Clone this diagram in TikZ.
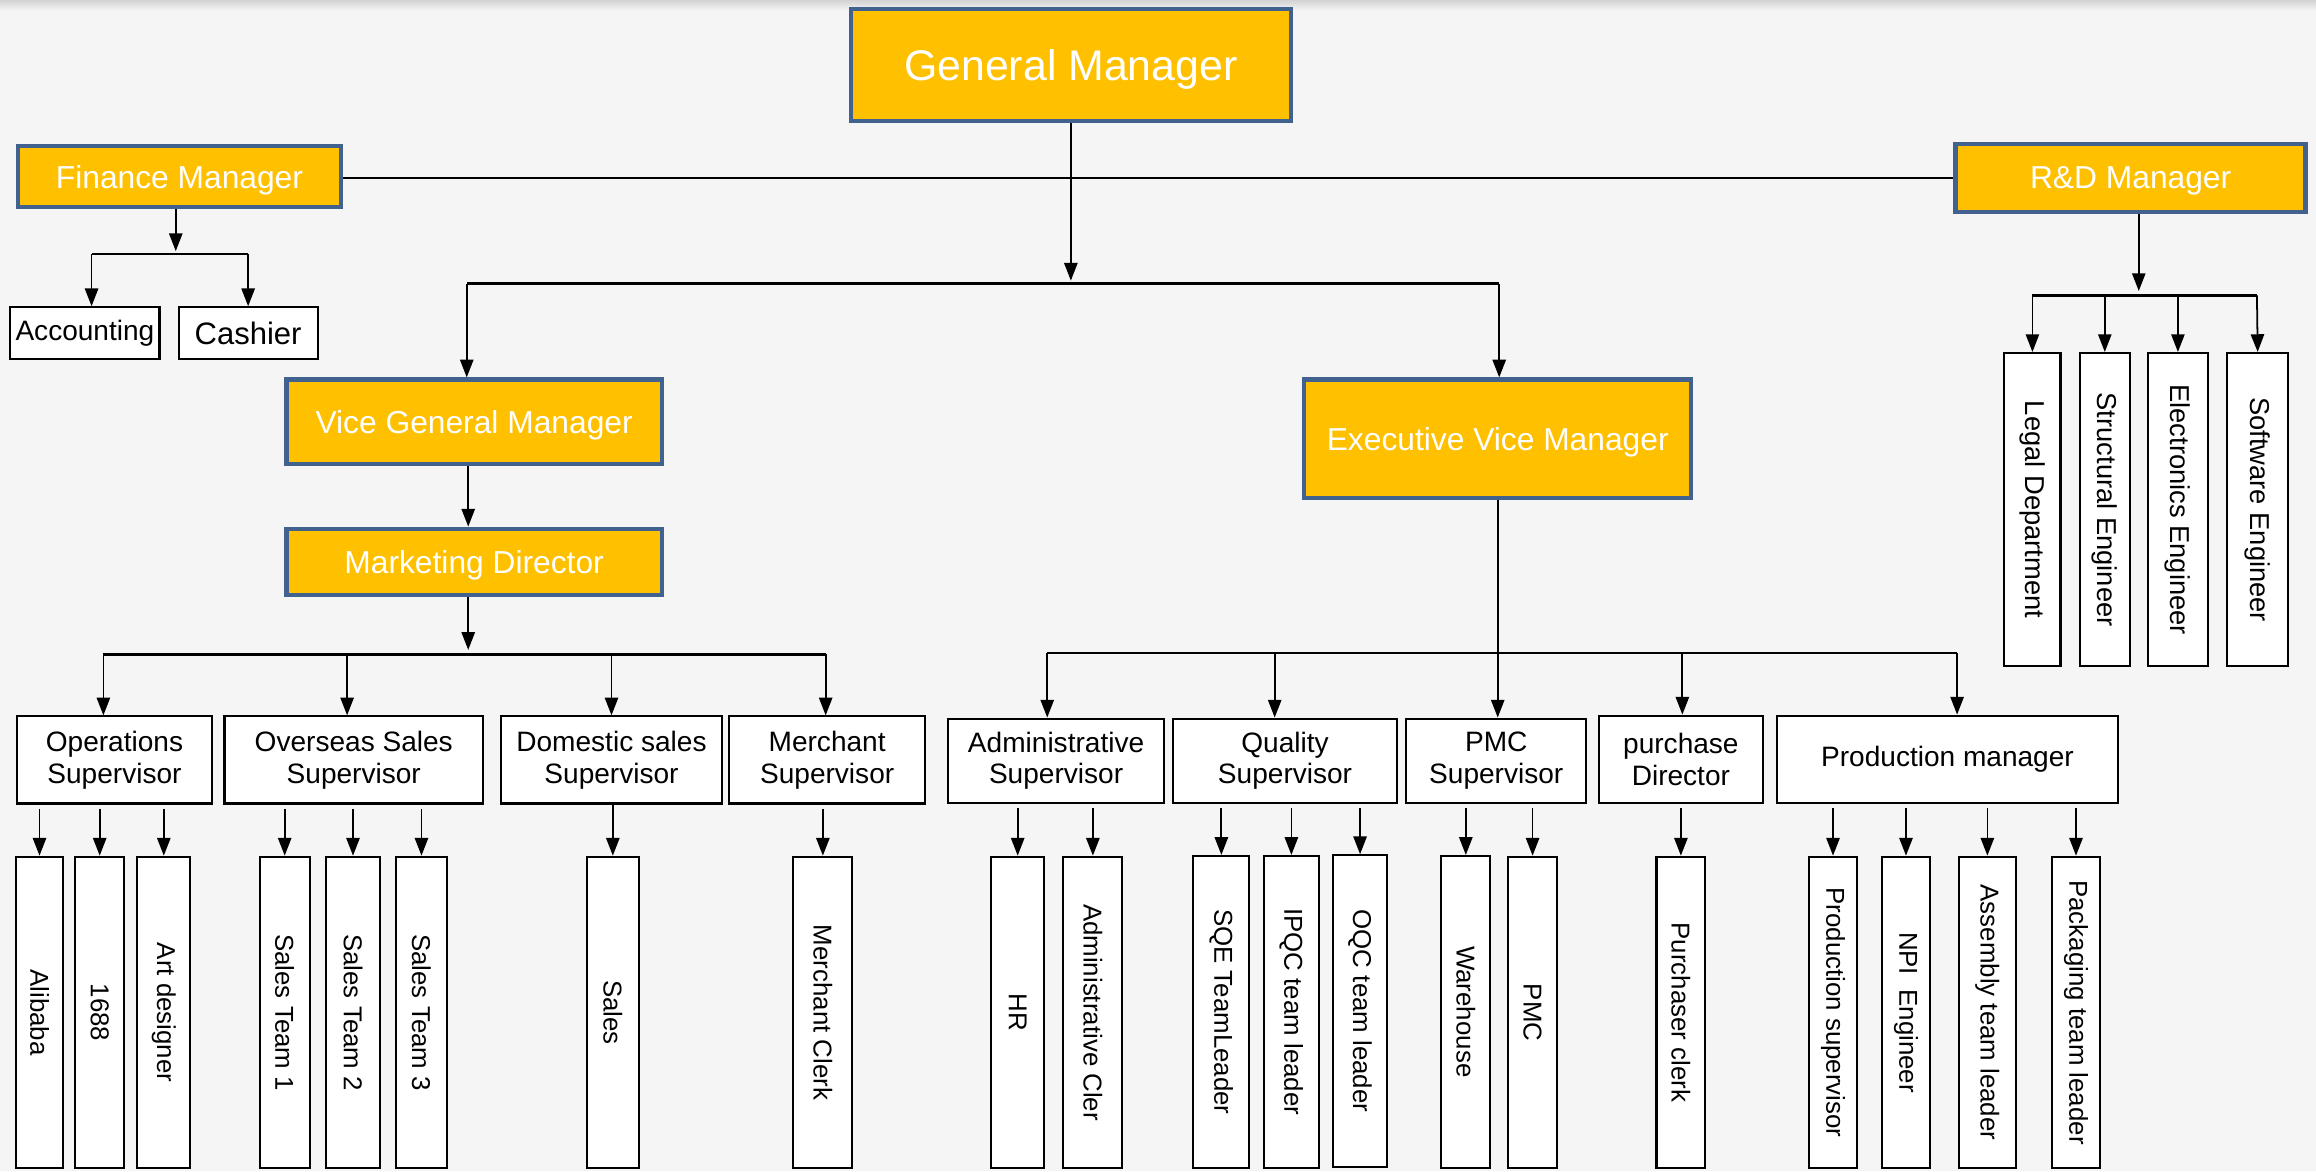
\documentclass[tikz,border=0pt]{standalone}
\usepackage{fontspec}
\setmainfont{Liberation Sans}
\usepackage{graphicx}
\usetikzlibrary{arrows.meta}
\definecolor{boxorange}{RGB}{255,192,0}
\definecolor{boxblue}{RGB}{65,98,142}
\definecolor{paper}{RGB}{245,245,245}
\begin{document}
\begin{tikzpicture}[x=1pt,y=-1pt,
    mgr/.style={draw=boxblue, line width=3pt, fill=boxorange, text=white, inner sep=0pt,
        text depth=0pt, font=\fontsize{21.5}{24}\selectfont},
    sup/.style={draw=black, line width=1.4pt, fill=white, inner sep=0pt, align=center,
        minimum height=59pt, font=\fontsize{19}{21.5}\selectfont},
    leaf/.style={draw=black, line width=1.4pt, fill=white, inner sep=0pt,
        minimum height=211pt, font=\fontsize{17.5}{20}\selectfont},
    link/.style={line width=1.2pt, -{Triangle[length=12pt,width=9pt]}},
    bus/.style={line width=1.6pt}]
        % paper
        \fill[paper] (0,0) rectangle (1568,793);
        \shade[top color=gray!35, bottom color=paper] (0,0) rectangle (1568,7);
        \useasboundingbox (0,0) rectangle (1568,793);
        % managers
        \node[mgr, minimum width=298pt, minimum height=76pt, font=\fontsize{29}{32}\selectfont] (gm) at (725,44) {General Manager};
        \node[mgr, minimum width=219pt, minimum height=41pt] (fin) at (121.5,119.5) {Finance Manager};
        \node[mgr, minimum width=237pt, minimum height=46pt] (rnd) at (1442.5,120.5) {R\&D Manager};
        \node[mgr, minimum width=254pt, minimum height=57pt] (vgm) at (321,285.5) {Vice General Manager};
        \node[mgr, minimum width=254pt, minimum height=45pt] (mkt) at (321,380.5) {Marketing Director};
        \node[mgr, minimum width=262pt, minimum height=80pt] (evm) at (1014,297) {Executive Vice Manager};
        % finance staff
        \node[sup, minimum width=101pt, minimum height=35pt] (acc) at (57.5,225.5) {Accounting};
        \node[sup, minimum width=94pt, minimum height=35pt, font=\fontsize{21}{24}\selectfont] (cash) at (168,225.5) {Cashier};
        % supervisors
        \node[sup, minimum width=132pt] (ops) at (77.5,514.5) {Operations\\Supervisor};
        \node[sup, minimum width=175pt] (ovs) at (239.5,514.5) {Overseas Sales\\Supervisor};
        \node[sup, minimum width=149pt] (dom) at (414,514.5) {Domestic sales\\Supervisor};
        \node[sup, minimum width=133pt] (mer) at (560,514.5) {Merchant\\Supervisor};
        \node[sup, minimum width=146pt, minimum height=57pt] (adm) at (715,515) {Administrative\\Supervisor};
        \node[sup, minimum width=152pt, minimum height=57pt] (qua) at (870,515) {Quality\\Supervisor};
        \node[sup, minimum width=122pt, minimum height=57pt] (pmcs) at (1013,515) {PMC\\Supervisor};
        \node[sup, minimum width=111pt] (pur) at (1138,514) {purchase\\Director};
        \node[sup, minimum width=231pt] (pro) at (1318.5,514) {Production manager};
        % marketing staff
        \node[leaf, minimum width=32pt] (ali) at (26.75,685.5) {\rotatebox{-90}{Alibaba}};
        \node[leaf, minimum width=33pt] (n1688) at (67.5,685.5) {\rotatebox{-90}{1688}};
        \node[leaf, minimum width=36pt] (art) at (110.9,685.5) {\rotatebox{-90}{Art designer}};
        \node[leaf, minimum width=34pt] (st1) at (192.75,685.5) {\rotatebox{-90}{Sales Team 1}};
        \node[leaf, minimum width=37pt] (st2) at (239,685.5) {\rotatebox{-90}{Sales Team 2}};
        \node[leaf, minimum width=35pt] (st3) at (285.35,685.5) {\rotatebox{-90}{Sales Team 3}};
        \node[leaf, minimum width=35pt] (sales) at (414.9,685.5) {\rotatebox{-90}{Sales}};
        \node[leaf, minimum width=40pt] (mclerk) at (557.1,685.5) {\rotatebox{-90}{Merchant Clerk}};
        % executive staff
        \node[leaf, minimum width=36pt] (hr) at (689,685.5) {\rotatebox{-90}{HR}};
        \node[leaf, minimum width=40pt] (aclerk) at (739.9,685.5) {\rotatebox{-90}{Administrative Cler}};
        \node[leaf, minimum width=38pt] (sqe) at (826.9,685) {\rotatebox{-90}{SQE TeamLeader}};
        \node[leaf, minimum width=37pt] (ipqc) at (874.3,685) {\rotatebox{-90}{IPQC team leader}};
        \node[leaf, minimum width=37pt] (oqc) at (920.8,684.5) {\rotatebox{-90}{OQC team leader}};
        \node[leaf, minimum width=33pt] (wh) at (992.4,685) {\rotatebox{-90}{Warehouse}};
        \node[leaf, minimum width=33pt] (pmc) at (1037.6,685.5) {\rotatebox{-90}{PMC}};
        \node[leaf, minimum width=33pt] (pclerk) at (1138,685.5) {\rotatebox{-90}{Purchaser clerk}};
        \node[leaf, minimum width=33pt] (psup) at (1241,685.5) {\rotatebox{-90}{Production supervisor}};
        \node[leaf, minimum width=33pt] (npi) at (1290.4,685.5) {\rotatebox{-90}{NPI\ \ Engineer}};
        \node[leaf, minimum width=39pt] (asm) at (1345.5,685.5) {\rotatebox{-90}{Assembly team leader}};
        \node[leaf, minimum width=33pt] (pack) at (1405.5,685.5) {\rotatebox{-90}{Packaging team leader}};
        % r&d staff
        \tikzset{rdleaf/.style={leaf, minimum height=212pt, font=\fontsize{18.5}{21}\selectfont}}
        \node[rdleaf, minimum width=38pt] (legal) at (1376,345) {\rotatebox{-90}{Legal Department}};
        \node[rdleaf, minimum width=34pt] (struct) at (1425,345) {\rotatebox{-90}{Structural Engineer}};
        \node[rdleaf, minimum width=41pt] (elec) at (1474.5,345) {\rotatebox{-90}{Electronics Engineer}};
        \node[rdleaf, minimum width=41pt] (soft) at (1528.5,345) {\rotatebox{-90}{Software Engineer}};
        % bus junctions
        \coordinate (gmtip) at (725,190);
        \coordinate (topL) at (316,192);
        \coordinate (topR) at (1015,192);
        \coordinate (fintip) at (119,170);
        \coordinate (finL) at (62,172);
        \coordinate (finR) at (168,172);
        \coordinate (mkttip) at (317,440);
        \coordinate (mktL) at (70,443);
        \coordinate (mktR) at (559,443);
        \coordinate (evmL) at (709,442);
        \coordinate (evmR) at (1325,442);
        \coordinate (rndtip) at (1448,197);
        \coordinate (rndL) at (1376,200);
        \coordinate (rndR) at (1528,200);
        % top level
        \draw[line width=1.2pt] (fin.east |- rnd.west) -- (rnd.west);
        \draw[link] (gm.south) -- (gmtip);
        \draw[bus] (topL) -- (topR);
        \draw[link] (topL) -- (topL |- vgm.north);
        \draw[link] (topR) -- (topR |- evm.north);
        % finance
        \draw[link] (fin.south -| fintip) -- (fintip);
        \draw[bus] (finL) -- (finR);
        \draw[link] (finL) -- (finL |- acc.north);
        \draw[link] (finR) -- (finR |- cash.north);
        % marketing
        \draw[link] (vgm.south -| mkttip) -- (mkttip |- mkt.north);
        \draw[link] (mkt.south -| mkttip) -- (mkttip);
        \draw[bus] (mktL) -- (mktR);
        \draw[link] (mktL) -- (mktL |- ops.north);
        \draw[link] (235,443) -- (235,0 |- ovs.north);
        \draw[link] (414,443) -- (414,0 |- dom.north);
        \draw[link] (mktR) -- (mktR |- mer.north);
        % executive
        \draw[link] (evm.south) -- (evm.south |- pmcs.north);
        \draw[bus] (evmL) -- (evmR);
        \draw[link] (evmL) -- (evmL |- adm.north);
        \draw[link] (863,442) -- (863,0 |- qua.north);
        \draw[link] (1139,442) -- (1139,0 |- pur.north);
        \draw[link] (evmR) -- (evmR |- pro.north);
        % r&d
        \draw[link] (rnd.south -| rndtip) -- (rndtip);
        \draw[bus] (rndL) -- (rndR);
        \draw[link] (rndL) -- (rndL |- legal.north);
        \draw[link] (1425,200) -- (struct.north);
        \draw[link] (1474.5,200) -- (elec.north);
        \draw[link] (rndR) -- (soft.north);
        % supervisors to staff
        \draw[link] ([yshift=-3pt]ops.south -| ali.north) -- (ali.north);
        \draw[link] ([yshift=-3pt]ops.south -| n1688.north) -- (n1688.north);
        \draw[link] ([yshift=-3pt]ops.south -| art.north) -- (art.north);
        \draw[link] ([yshift=-3pt]ovs.south -| st1.north) -- (st1.north);
        \draw[link] ([yshift=-3pt]ovs.south -| st2.north) -- (st2.north);
        \draw[link] ([yshift=-3pt]ovs.south -| st3.north) -- (st3.north);
        \draw[link] (dom.south -| sales.north) -- (sales.north);
        \draw[link] ([yshift=-3pt]mer.south -| mclerk.north) -- (mclerk.north);
        \draw[link] ([yshift=-3pt]adm.south -| hr.north) -- (hr.north);
        \draw[link] ([yshift=-3pt]adm.south -| aclerk.north) -- (aclerk.north);
        \draw[link] ([yshift=-3pt]qua.south -| sqe.north) -- (sqe.north);
        \draw[link] ([yshift=-3pt]qua.south -| ipqc.north) -- (ipqc.north);
        \draw[link] ([yshift=-3pt]qua.south -| oqc.north) -- (oqc.north);
        \draw[link] ([yshift=-3pt]pmcs.south -| wh.north) -- (wh.north);
        \draw[link] ([yshift=-3pt]pmcs.south -| pmc.north) -- (pmc.north);
        \draw[link] ([yshift=-3pt]pur.south -| pclerk.north) -- (pclerk.north);
        \draw[link] ([yshift=-3pt]pro.south -| psup.north) -- (psup.north);
        \draw[link] ([yshift=-3pt]pro.south -| npi.north) -- (npi.north);
        \draw[link] ([yshift=-3pt]pro.south -| asm.north) -- (asm.north);
        \draw[link] ([yshift=-3pt]pro.south -| pack.north) -- (pack.north);
\end{tikzpicture}
\end{document}
